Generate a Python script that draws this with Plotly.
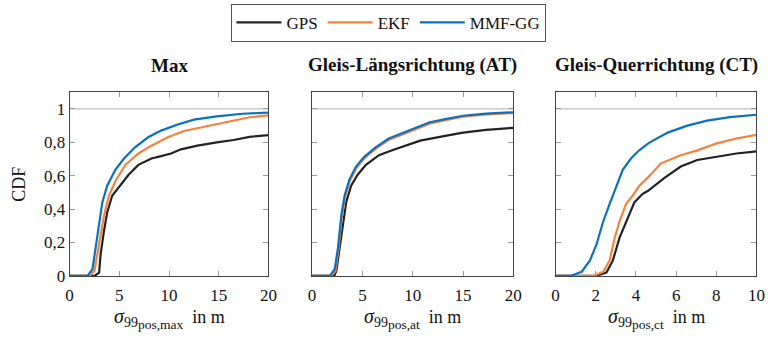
import plotly.graph_objects as go

# ---------------- data ----------------
series_names = ["GPS", "EKF", "MMF-GG"]
series_colors = ["#222222", "#F5823A", "#0A72BD"]

titles = ["Max", "Gleis-Längsrichtung (AT)", "Gleis-Querrichtung (CT)"]
x_subs = ["pos,max", "pos,at", "pos,ct"]

# Max
max_gps_x = [0, 2.5, 2.97, 3.12, 3.46, 3.78, 4.28, 5.1, 5.93, 6.92, 8.23, 9.2, 10.2, 11.2, 12.85, 14.8, 16.5, 18.1, 20]
max_gps_y = [0, 0, 0.02, 0.13, 0.27, 0.38, 0.48, 0.54, 0.606, 0.665, 0.703, 0.717, 0.733, 0.758, 0.78, 0.80, 0.814, 0.833, 0.843]
max_ekf_x = [0, 2.0, 2.5, 2.96, 3.46, 3.95, 4.6, 5.6, 6.92, 8.23, 9.88, 11.5, 13.2, 14.8, 16.8, 18.1, 20]
max_ekf_y = [0, 0, 0.03, 0.19, 0.36, 0.48, 0.567, 0.665, 0.733, 0.78, 0.83, 0.868, 0.89, 0.907, 0.932, 0.95, 0.961]
max_mmf_x = [0, 1.8, 2.3, 2.8, 3.29, 3.78, 4.6, 5.43, 6.58, 7.9, 9.2, 10.87, 12.5, 14.8, 17.4, 20]
max_mmf_y = [0, 0, 0.04, 0.25, 0.44, 0.54, 0.635, 0.70, 0.77, 0.83, 0.87, 0.907, 0.936, 0.955, 0.971, 0.978]

# AT
at_gps_x = [0, 2.2, 2.41, 2.74, 3.07, 3.39, 3.88, 4.53, 5.35, 6.65, 7.96, 9.26, 10.75, 12.7, 15, 17.3, 20]
at_gps_y = [0, 0, 0.03, 0.17, 0.326, 0.44, 0.54, 0.606, 0.665, 0.723, 0.752, 0.78, 0.81, 0.833, 0.858, 0.874, 0.887]
at_ekf_x = [0, 1.9, 2.32, 2.63, 2.95, 3.28, 3.76, 4.42, 5.23, 6.37, 7.67, 9.3, 10.15, 11.75, 13.4, 15, 17.3, 20]
at_ekf_y = [0, 0, 0.03, 0.16, 0.35, 0.47, 0.57, 0.648, 0.706, 0.764, 0.816, 0.855, 0.872, 0.913, 0.934, 0.953, 0.967, 0.975]
at_mmf_x = [0, 1.76, 2.25, 2.58, 2.9, 3.23, 3.71, 4.37, 5.18, 6.32, 7.62, 9.26, 10.1, 11.7, 13.36, 15, 17.3, 20]
at_mmf_y = [0, 0, 0.04, 0.17, 0.36, 0.48, 0.577, 0.655, 0.713, 0.77, 0.823, 0.862, 0.878, 0.92, 0.94, 0.959, 0.972, 0.98]

# CT
ct_gps_x = [0, 2.0, 2.53, 2.85, 3.18, 3.51, 3.92, 4.32, 4.6, 5.42, 6.23, 7.05, 8.03, 9.0, 10]
ct_gps_y = [0, 0, 0.02, 0.093, 0.228, 0.326, 0.44, 0.49, 0.51, 0.587, 0.655, 0.694, 0.713, 0.733, 0.746]
ct_ekf_x = [0, 1.87, 2.37, 2.69, 2.94, 3.18, 3.51, 3.83, 4.16, 4.6, 5.25, 6.23, 7.05, 8.03, 9.0, 10]
ct_ekf_y = [0, 0, 0.025, 0.093, 0.228, 0.326, 0.432, 0.48, 0.538, 0.59, 0.674, 0.723, 0.752, 0.794, 0.823, 0.845]
ct_mmf_x = [0, 0.73, 1.3, 1.71, 2.04, 2.37, 2.69, 3.02, 3.34, 3.75, 4.16, 4.65, 5.58, 6.56, 7.54, 8.68, 10]
ct_mmf_y = [0, 0, 0.025, 0.093, 0.19, 0.326, 0.432, 0.538, 0.635, 0.703, 0.752, 0.797, 0.858, 0.90, 0.93, 0.951, 0.965]

y_ticks = [0, 0.2, 0.4, 0.6, 0.8, 1]
y_ticktext = ["0", "0,2", "0,4", "0,6", "0,8", "1"]
x_ticks_20 = [0, 5, 10, 15, 20]
x_ticks_10 = [0, 2, 4, 6, 8, 10]

# ---------------- figure ----------------
W, H = 777, 340
FONT = "Liberation Serif"
panels = [
    [(max_gps_x, max_gps_y), (max_ekf_x, max_ekf_y), (max_mmf_x, max_mmf_y)],
    [(at_gps_x, at_gps_y), (at_ekf_x, at_ekf_y), (at_mmf_x, at_mmf_y)],
    [(ct_gps_x, ct_gps_y), (ct_ekf_x, ct_ekf_y), (ct_mmf_x, ct_mmf_y)],
]
x_px = [(66.7, 269.0), (313.3, 518.0), (561.0, 765.3)]
x_ranges = [[0, 20], [0, 20], [0, 10]]
x_tickvals = [x_ticks_20, x_ticks_20, x_ticks_10]
y_top, y_bot = 95.0, 284.3


def xlabel(sub):
    return ("<span style='font-size:20px'><i>σ</i></span>"
            "<sub><span style='font-size:14px'>99</span>"
            "<sub><span style='font-size:13.5px'>" + sub + "</span></sub></sub>"
            "&nbsp;&nbsp;in m")


fig = go.Figure()
layout = dict(
    width=W, height=H,
    margin=dict(l=0, r=0, t=0, b=0),
    paper_bgcolor="white", plot_bgcolor="white",
    font=dict(family=FONT, size=17, color="#111111"),
    showlegend=True,
    legend=dict(orientation="h", x=391.5 / W, xanchor="center", y=1 - 4 / H, yanchor="top",
                bordercolor="#555555", borderwidth=1, font=dict(size=17, family=FONT),
                itemwidth=45, bgcolor="white"),
)
annotations = []
shapes = []
for p, traces in enumerate(panels):
    ax = "" if p == 0 else str(p + 1)
    for s, (xs, ys) in enumerate(traces):
        fig.add_trace(go.Scatter(
            x=xs, y=ys, mode="lines", name=series_names[s],
            line=dict(color=series_colors[s], width=2.2),
            showlegend=(p == 0), legendgroup=series_names[s],
            xaxis="x" + ax, yaxis="y" + ax,
        ))
    x0, x1 = x_px[p]
    layout["xaxis" + ax] = dict(
        domain=[x0 / W, x1 / W], range=x_ranges[p], anchor="y" + ax,
        tickvals=x_tickvals[p], ticks="inside", ticklen=5, tickcolor="#999999",
        showline=True, linecolor="#444444", linewidth=1, mirror="ticks",
        showgrid=False, zeroline=False, tickfont=dict(size=17, family=FONT),
        ticklabelstandoff=4,
    )
    layout["yaxis" + ax] = dict(
        domain=[1 - y_bot / H, 1 - y_top / H], range=[0, 1.1], anchor="x" + ax,
        tickvals=y_ticks, ticktext=y_ticktext, showticklabels=(p == 0),
        ticks="inside", ticklen=5, tickcolor="#999999",
        showline=True, linecolor="#444444", linewidth=1, mirror="ticks",
        showgrid=False, zeroline=False, tickfont=dict(size=17, family=FONT),
    )
    shapes.append(dict(type="line", xref="x" + ax + " domain", yref="y" + ax,
                       x0=0, x1=1, y0=1, y1=1, line=dict(color="#B0B0B0", width=1),
                       layer="below"))
    xc = (x0 + x1) / 2
    annotations.append(dict(text="<b>" + titles[p] + "</b>", x=xc / W, y=1 - 67 / H,
                            xref="paper", yref="paper", showarrow=False,
                            xanchor="center", yanchor="middle",
                            font=dict(size=19, family=FONT)))
    annotations.append(dict(text=xlabel(x_subs[p]), x=xc / W, y=1 - 328 / H,
                            xref="paper", yref="paper", showarrow=False,
                            xanchor="center", yanchor="middle",
                            font=dict(size=18, family=FONT)))

annotations.append(dict(text="CDF", x=15 / W, y=1 - (y_top + y_bot) / 2 / H,
                        xref="paper", yref="paper", showarrow=False, textangle=-90,
                        xanchor="center", yanchor="middle",
                        font=dict(size=18, family=FONT)))
layout["annotations"] = annotations
layout["shapes"] = shapes
fig.update_layout(**layout)
fig.write_html("out.html")
